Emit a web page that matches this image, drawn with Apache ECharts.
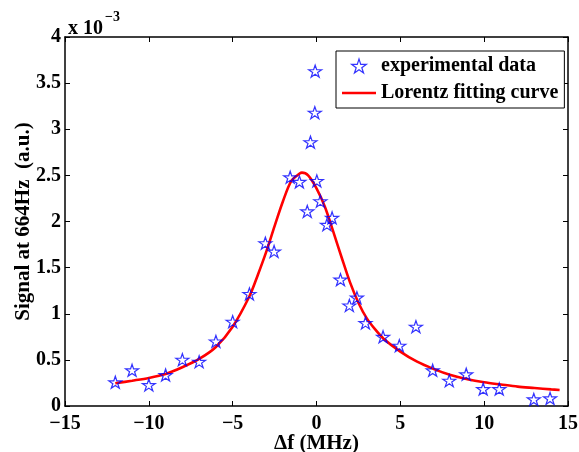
<!DOCTYPE html>
<html>
<head>
<meta charset="utf-8">
<script src="https://cdn.jsdelivr.net/npm/echarts@6/dist/echarts.min.js"></script>
<style>html,body{margin:0;padding:0;background:#fff;}#c{width:579px;height:452px;}</style>
</head>
<body>
<div id="c"></div>
<script>
// Experimental data (Δf in MHz, signal in units of 1e-3)
var expX = [-12, -11, -10, -9, -8, -7, -6, -5, -4, -3.05, -2.53, -1.57, -1.02, -0.55, -0.36, -0.1, -0.08, 0.02, 0.23, 0.62, 0.93, 1.43, 1.96, 2.41, 2.92, 3.97, 4.94, 5.93, 6.93, 7.92, 8.93, 9.94, 10.9, 12.96, 13.93];
var expY = [0.257, 0.387, 0.228, 0.336, 0.502, 0.48, 0.70, 0.914, 1.215, 1.765, 1.675, 2.48, 2.43, 2.11, 2.86, 3.18, 3.63, 2.44, 2.22, 1.965, 2.04, 1.37, 1.09, 1.175, 0.90, 0.75, 0.654, 0.86, 0.387, 0.275, 0.344, 0.184, 0.184, 0.072, 0.083];
// Lorentz fitting curve
var fitX = [-12, -11, -10, -9, -8, -7, -6, -5, -4, -3.5, -3, -2.5, -2, -1.5, -1, -0.87, -0.5, 0, 0.5, 1, 1.5, 2, 2.5, 3, 3.5, 4, 5, 6, 7, 8, 9, 10, 11, 12, 13, 14, 14.5];
var fitY = [0.246, 0.274, 0.304, 0.347, 0.42, 0.51, 0.64, 0.86, 1.19, 1.42, 1.67, 1.95, 2.22, 2.44, 2.52, 2.53, 2.5, 2.36, 2.16, 1.89, 1.61, 1.34, 1.12, 0.95, 0.83, 0.73, 0.59, 0.48, 0.40, 0.336, 0.29, 0.257, 0.233, 0.21, 0.195, 0.18, 0.174];
var xTicks = [-15, -10, -5, 0, 5, 10, 15];
var yTicks = [0, 0.5, 1, 1.5, 2, 2.5, 3, 3.5, 4];
var seriesNames = ['experimental data', 'Lorentz fitting curve'];

var starPath = 'path://M100 0 L122.5 69.1 L195.1 69.1 L136.3 111.8 L158.8 180.9 L100 138.2 L41.2 180.9 L63.7 111.8 L4.9 69.1 L77.5 69.1 Z';
var linePath = 'path://M0 0 L34 0 L34 2.6 L0 2.6 Z';
var font = 'Liberation Serif';

var expData = expX.map(function (x, i) { return [x, expY[i]]; });
var fitData = fitX.map(function (x, i) { return [x, fitY[i]]; });

var chart = echarts.init(document.getElementById('c'), null, {renderer: 'canvas'});
var axisLine = {show: true, onZero: false, lineStyle: {color: '#000', width: 1.5}};
var tick = {show: true, inside: true, length: 5, lineStyle: {color: '#000', width: 1}};
chart.setOption({
  animation: false,
  backgroundColor: '#fff',
  grid: {left: 65, right: 11, top: 37, bottom: 46, containLabel: false, outerBoundsMode: 'none'},
  title: {
    left: 63, top: 0,
    text: '{a|x 10}{b|−3}',
    textStyle: {
      rich: {
        a: {fontFamily: font, fontWeight: 'bold', fontSize: 20, color: '#000', padding: [14, 0, 0, 0]},
        b: {fontFamily: font, fontWeight: 'bold', fontSize: 14, color: '#000', padding: [0, 0, 10, 2]}
      }
    }
  },
  legend: {
    orient: 'vertical',
    left: 336, top: 51,
    padding: [5, 6, 5, 6],
    itemGap: 7,
    itemWidth: 34, itemHeight: 14,
    backgroundColor: '#fff',
    borderColor: '#000', borderWidth: 1,
    textStyle: {fontFamily: font, fontWeight: 'bold', fontSize: 20, color: '#000'},
    data: [
      {name: seriesNames[0], icon: starPath, itemStyle: {color: 'rgba(0,0,0,0)', borderColor: '#0000ff', borderWidth: 1.2}},
      {name: seriesNames[1], icon: linePath, itemStyle: {color: '#ff0000', borderWidth: 0}, lineStyle: {width: 0, opacity: 0}}
    ]
  },
  xAxis: [{
    type: 'value', min: -15, max: 15, interval: 5, position: 'bottom',
    axisLine: axisLine, axisTick: tick, splitLine: {show: false},
    axisLabel: {
      margin: 8, color: '#000', fontFamily: font, fontWeight: 'bold', fontSize: 20,
      formatter: function (v) { return xTicks.indexOf(v) >= 0 ? String(v).replace('-', '−') : ''; }
    },
    name: 'Δf (MHz)', nameLocation: 'middle', nameGap: 27, nameMoveOverlap: false,
    nameTextStyle: {fontFamily: font, fontWeight: 'bold', fontSize: 21, color: '#000'}
  }, {
    type: 'value', min: -15, max: 15, interval: 5, position: 'top',
    axisLine: axisLine, axisTick: tick, axisLabel: {show: false}, splitLine: {show: false}
  }],
  yAxis: [{
    type: 'value', min: 0, max: 4, interval: 0.5, position: 'left',
    axisLine: axisLine, axisTick: tick, splitLine: {show: false},
    axisLabel: {
      margin: 4, color: '#000', fontFamily: font, fontWeight: 'bold', fontSize: 20,
      formatter: function (v) { return yTicks.indexOf(v) >= 0 ? String(v) : ''; }
    },
    name: 'Signal at 664Hz  (a.u.)', nameLocation: 'middle', nameGap: 31, nameRotate: 90, nameMoveOverlap: false,
    nameTextStyle: {fontFamily: font, fontWeight: 'bold', fontSize: 21, color: '#000'}
  }, {
    type: 'value', min: 0, max: 4, interval: 0.5, position: 'right',
    axisLine: axisLine, axisTick: tick, axisLabel: {show: false}, splitLine: {show: false}
  }],
  series: [{
    name: seriesNames[0],
    type: 'scatter',
    xAxisIndex: 0, yAxisIndex: 0,
    symbol: starPath,
    symbolSize: [13, 12],
    itemStyle: {color: 'rgba(0,0,0,0)', borderColor: '#0000ff', borderWidth: 1.2},
    data: expData,
    z: 3
  }, {
    name: seriesNames[1],
    type: 'line',
    xAxisIndex: 0, yAxisIndex: 0,
    smooth: 0.3,
    symbol: 'none',
    lineStyle: {color: '#ff0000', width: 2.6},
    itemStyle: {color: '#ff0000'},
    data: fitData,
    z: 2
  }]
});
</script>
</body>
</html>
